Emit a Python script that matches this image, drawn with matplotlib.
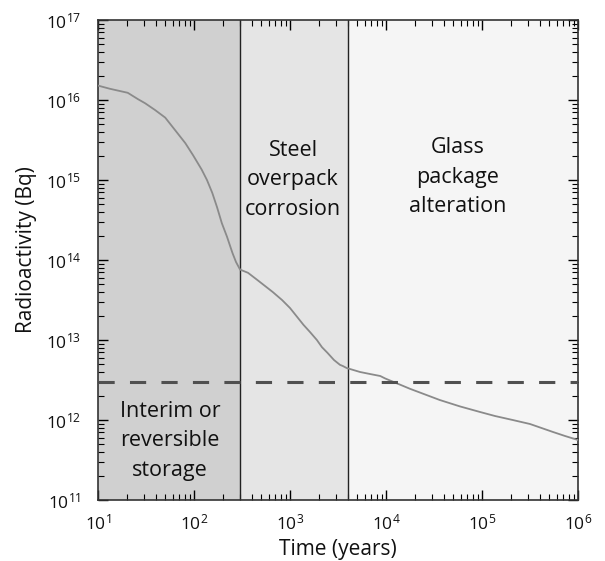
import matplotlib
matplotlib.use("Agg")
import matplotlib.pyplot as plt
import numpy as np

plt.rcParams['font.family'] = ['Open Sans', 'DejaVu Sans']
plt.rcParams['mathtext.fontset'] = 'custom'
plt.rcParams['mathtext.rm'] = 'Open Sans'
plt.rcParams['mathtext.it'] = 'Open Sans'

# data (log10 values)
log_time = [1.00, 1.125, 1.31, 1.417, 1.49, 1.594, 1.70, 1.802, 1.91, 1.99, 2.08, 2.135, 2.19,
            2.24, 2.29, 2.344, 2.40, 2.4375, 2.48, 2.5625, 2.66, 2.74, 2.82, 2.917, 3.00,
            3.14, 3.208, 3.28, 3.333, 3.39, 3.458, 3.52, 3.55, 3.59, 3.73, 3.833, 3.94,
            3.99, 4.07, 4.25, 4.56, 4.77, 4.98, 5.135, 5.32, 5.5, 5.74, 5.865, 6.00]
log_activity = [16.18, 16.14, 16.09, 16.01, 15.96, 15.875, 15.78, 15.625, 15.46, 15.31, 15.13,
                15.00, 14.84, 14.66, 14.46, 14.29, 14.09, 13.975, 13.88, 13.84, 13.75, 13.675,
                13.60, 13.50, 13.40, 13.19, 13.10, 13.00, 12.91, 12.84, 12.75, 12.69, 12.675,
                12.65, 12.60, 12.575, 12.55, 12.52, 12.48, 12.39, 12.25, 12.17, 12.10, 12.05,
                12.00, 11.95, 11.85, 11.80, 11.75]
phase_bounds = [10, 300, 4000, 1e6]
phase_colors = ['#d0d0d0', '#e5e5e5', '#f5f5f5']
phase_labels = ['Interim or\nreversible\nstorage', 'Steel\noverpack\ncorrosion', 'Glass\npackage\nalteration']
threshold = 3e12

time = 10 ** np.array(log_time)
activity = 10 ** np.array(log_activity)

fig = plt.figure(figsize=(6.05, 5.61), dpi=100)
ax = fig.add_axes([98/605, 1 - 500/561, 480/605, 480/561])
ax.set_xscale('log')
ax.set_yscale('log')
ax.set_xlim(10, 1e6)
ax.set_ylim(1e11, 1e17)

for i in range(3):
    ax.axvspan(phase_bounds[i], phase_bounds[i+1], color=phase_colors[i], zorder=0, lw=0)
for b in phase_bounds[1:3]:
    ax.axvline(b, color='#222222', lw=1.0, zorder=2)

ax.plot(time, activity, color='#8a8a8a', lw=1.3, zorder=3)
ax.axhline(threshold, color='#505050', lw=2.2, dashes=(5.3, 5.0), zorder=4)

# labels (positions in axes fraction)
label_x = [(170-98)/480, (293-98)/480, (458-98)/480]
label_y = [(500-441)/480, (500-180)/480, (500-177)/480]
for lx, ly, txt in zip(label_x, label_y, phase_labels):
    ax.text(lx, ly, txt, transform=ax.transAxes, ha='center', va='center', fontsize=15.5,
            linespacing=1.52, color='#111111')

ax.tick_params(which='both', direction='in', top=True, right=True, labelsize=12.5,
               labelcolor='#111111')
ax.tick_params(axis='x', which='both', pad=10)
ax.tick_params(axis='y', which='both', pad=12)
ax.tick_params(which='major', length=7, width=1)
ax.tick_params(which='minor', length=4, width=0.8)
ax.set_xticks([10**k for k in range(1, 7)])
ax.set_xticklabels([r'$10^{%d}$' % k for k in range(1, 7)])
ax.set_yticks([10**k for k in range(11, 18)])
ax.set_yticklabels([r'$10^{%d}$' % k for k in range(11, 18)])
for s in ax.spines.values():
    s.set_linewidth(1.2)
    s.set_color('#333333')

ax.set_xlabel('Time (years)', fontsize=15, color='#111111')
ax.set_ylabel('Radioactivity (Bq)', fontsize=15, color='#111111')
ax.xaxis.set_label_coords((338-98)/480, -(550-500)/480)
ax.yaxis.set_label_coords(-(98-27)/480, (500-250)/480)
ax.xaxis.label.set_va('center')
ax.yaxis.label.set_va('center')

fig.savefig('out.png', dpi=100)
